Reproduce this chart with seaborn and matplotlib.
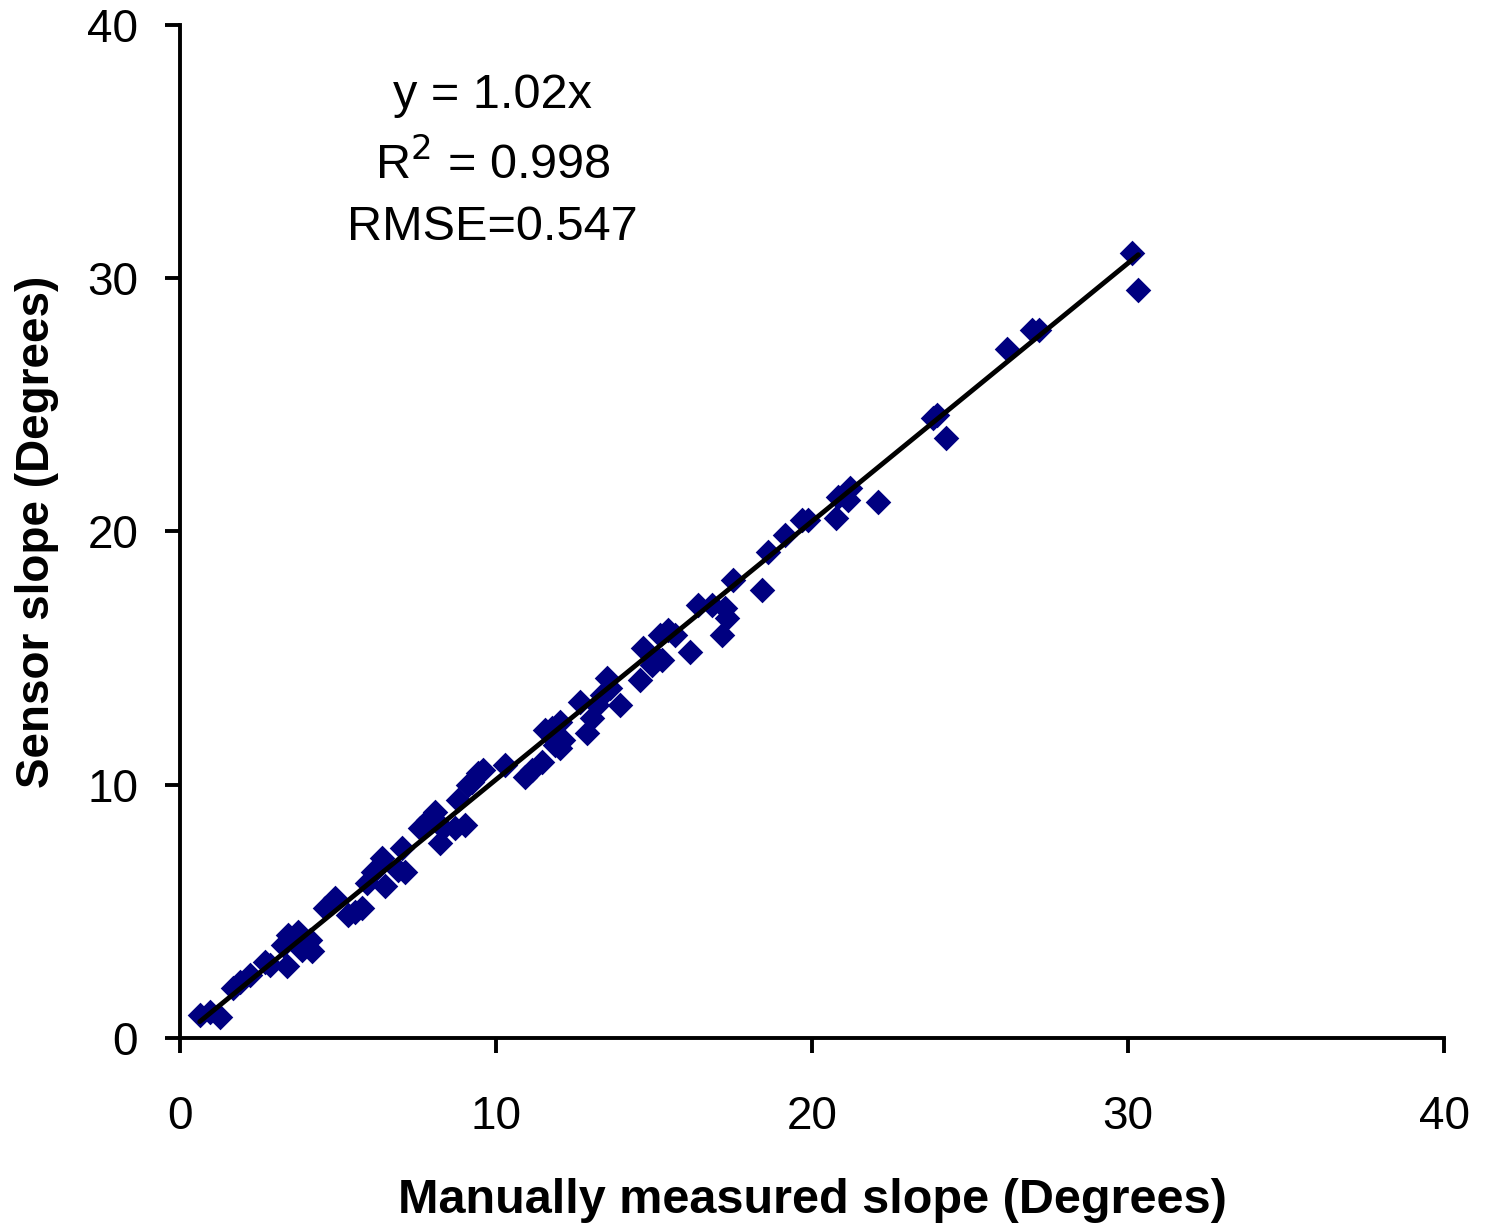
import matplotlib
matplotlib.use("Agg")
import matplotlib.pyplot as plt
import seaborn as sns
import numpy as np
import pandas as pd

# valores (grados)
manual = [0.63, 0.95, 1.26, 1.68, 1.90, 2.21, 2.69, 2.85, 3.26, 3.41, 3.38, 3.73, 3.86, 4.11, 4.17,
          4.58, 4.90, 5.31, 5.53, 5.75, 5.91, 6.10, 6.39, 6.48, 6.89, 7.02, 7.11, 7.59, 7.84, 8.07,
          8.22, 8.31, 8.69, 9.01, 8.79, 9.11, 9.42, 9.23, 9.58, 10.28, 10.91, 11.13, 11.45, 11.54,
          11.76, 11.86, 12.02, 12.11, 12.02, 12.65, 12.87, 13.03, 13.19, 13.34, 13.50, 13.60, 13.92,
          14.55, 14.64, 14.93, 15.08, 15.24, 15.18, 15.43, 15.65, 16.13, 16.38, 16.82, 17.14, 17.23,
          17.30, 17.49, 18.40, 18.59, 19.13, 19.67, 19.86, 20.77, 20.81, 21.12, 21.19, 22.07, 23.81,
          23.94, 24.25, 26.18, 26.94, 27.19, 30.13, 30.32]
sensor = [0.91, 1.03, 0.83, 1.97, 2.21, 2.49, 3.00, 2.88, 3.67, 4.07, 2.84, 4.19, 3.47, 3.87, 3.43,
          5.13, 5.53, 4.86, 4.98, 5.13, 6.12, 6.55, 7.10, 6.00, 6.63, 7.50, 6.55, 8.29, 8.60, 8.92,
          7.70, 8.29, 8.29, 8.41, 9.40, 9.99, 10.46, 10.10, 10.58, 10.78, 10.31, 10.58, 10.90, 12.16,
          12.24, 11.57, 11.45, 11.77, 12.48, 13.27, 12.04, 12.64, 13.15, 13.54, 14.22, 13.82, 13.15,
          14.14, 15.40, 14.73, 15.00, 14.93, 15.91, 16.11, 15.91, 15.24, 17.10, 17.10, 15.91, 16.98,
          16.58, 18.08, 17.69, 19.19, 19.86, 20.45, 20.45, 20.53, 21.36, 21.24, 21.72, 21.16, 24.48,
          24.60, 23.69, 27.21, 27.96, 27.96, 31.00, 29.54]
slope = 1.02
textos = ["y = 1.02x", "R$^2$ = 0.998", "RMSE=0.547"]

df = pd.DataFrame({"manual": manual, "sensor": sensor})

sns.set_style("white")
plt.rcParams["font.family"] = ["Liberation Sans", "DejaVu Sans"]
plt.rcParams["text.color"] = "black"
plt.rcParams["axes.labelcolor"] = "black"
plt.rcParams["xtick.color"] = "black"
plt.rcParams["ytick.color"] = "black"

fig = plt.figure(figsize=(14.86, 12.25), dpi=100)
ax = fig.add_axes([0.121, 0.1527, 0.851, 0.827])

sns.scatterplot(data=df, x="manual", y="sensor", marker="D", color="#000080",
                s=170, edgecolor="#000080", linewidth=0, ax=ax, zorder=2)

# linea de regresion por el origen
xs = np.array([min(manual), max(manual)])
ax.plot(xs, slope * xs, color="black", linewidth=3.5, zorder=3)

ax.set_xlim(0, 40)
ax.set_ylim(0, 40)
ax.set_xticks([0, 10, 20, 30, 40])
ax.set_yticks([0, 10, 20, 30, 40])
ax.tick_params(axis="both", labelsize=33, direction="out", length=11, width=2.8,
               bottom=True, left=True)
ax.tick_params(axis="x", pad=30)
ax.tick_params(axis="y", pad=19)
for s in ["top", "right"]:
    ax.spines[s].set_visible(False)
for s in ["left", "bottom"]:
    ax.spines[s].set_linewidth(2.8)
    ax.spines[s].set_color("black")

ax.set_xlabel("Manually measured slope (Degrees)", fontsize=35, fontweight="bold", labelpad=28)
ax.set_ylabel("Sensor slope (Degrees)", fontsize=33, fontweight="bold", labelpad=20)

for t, yy in zip(textos, [37.2, 34.5, 32.0]):
    ax.text(9.9, yy, t, fontsize=35, ha="center", va="center")

fig.savefig("out.png", dpi=100)
plt.close(fig)
